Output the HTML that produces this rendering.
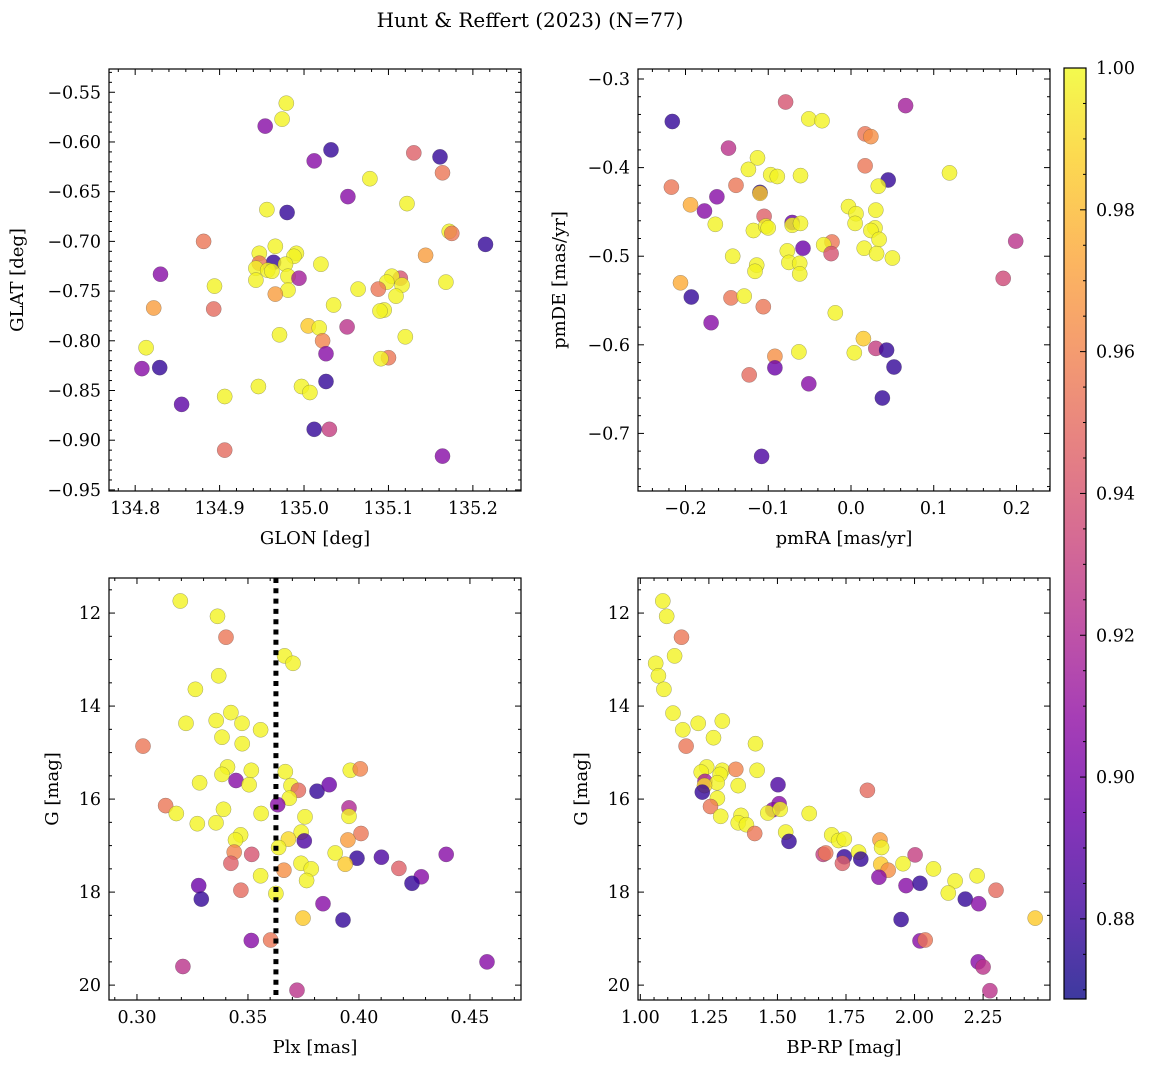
<!DOCTYPE html>
<html><head><meta charset="utf-8">
<style>
html,body{margin:0;padding:0;background:#fff;}
svg{display:block;font-family:"DejaVu Serif","Liberation Serif",serif;}
</style></head>
<body>
<svg id="fig" width="1149" height="1068" viewBox="0 0 1149 1068" xmlns="http://www.w3.org/2000/svg">
<defs>
<linearGradient id="cbgrad" x1="0" y1="1" x2="0" y2="0">
<stop offset="0" stop-color="#0d0887"/><stop offset="0.1" stop-color="#41049d"/><stop offset="0.2" stop-color="#6a00a8"/><stop offset="0.3" stop-color="#8f0da4"/><stop offset="0.4" stop-color="#b12a90"/><stop offset="0.5" stop-color="#cc4778"/><stop offset="0.6" stop-color="#e16462"/><stop offset="0.7" stop-color="#f2844b"/><stop offset="0.8" stop-color="#fca636"/><stop offset="0.9" stop-color="#fcce25"/><stop offset="1" stop-color="#f0f921"/>
</linearGradient>
</defs>
<text x="530" y="27" font-size="20" text-anchor="middle">Hunt &amp; Reffert (2023) (N=77)</text>
</svg>
<script>
// ---- data ----
const p1_glon=[134.979,134.974,134.954,135.032,135.012,135.130,135.161,135.164,135.078,135.052,135.122,134.956,134.980,135.172,135.175,135.215,134.881,135.144,134.830,134.966,134.947,134.991,134.988,134.964,134.947,134.943,134.978,135.020,134.957,134.962,134.981,134.994,134.943,134.894,134.981,134.966,135.114,135.104,135.098,135.116,135.168,135.064,135.088,135.109,134.822,134.893,135.035,135.095,135.090,135.051,135.005,135.018,135.120,134.971,135.022,135.026,134.813,135.100,135.091,134.808,134.829,134.997,135.007,134.946,135.026,134.906,134.855,135.012,135.030,134.906,135.164];
const p1_glat=[-0.561,-0.577,-0.584,-0.608,-0.619,-0.611,-0.615,-0.631,-0.637,-0.655,-0.662,-0.668,-0.671,-0.690,-0.692,-0.703,-0.700,-0.714,-0.733,-0.705,-0.712,-0.712,-0.715,-0.721,-0.722,-0.727,-0.723,-0.723,-0.729,-0.730,-0.735,-0.737,-0.739,-0.745,-0.749,-0.753,-0.737,-0.735,-0.741,-0.744,-0.741,-0.748,-0.748,-0.755,-0.767,-0.768,-0.764,-0.769,-0.770,-0.786,-0.785,-0.787,-0.796,-0.794,-0.800,-0.813,-0.807,-0.817,-0.818,-0.828,-0.827,-0.846,-0.852,-0.846,-0.841,-0.856,-0.864,-0.889,-0.889,-0.910,-0.916];
const p1_prob=[0.998,0.998,0.905,0.878,0.905,0.945,0.878,0.955,0.998,0.905,0.998,0.998,0.878,0.998,0.955,0.878,0.955,0.97,0.905,0.998,0.998,0.998,0.998,0.878,0.955,0.998,0.998,0.998,0.998,0.998,0.998,0.915,0.998,0.998,0.998,0.97,0.94,0.998,0.998,0.998,0.998,0.998,0.955,0.998,0.97,0.95,0.998,0.998,0.998,0.925,0.985,0.998,0.998,0.998,0.96,0.905,0.998,0.955,0.998,0.905,0.878,0.998,0.998,0.998,0.878,0.998,0.89,0.878,0.93,0.95,0.905];

const p2_pmra=[-0.216,-0.079,0.066,-0.051,-0.035,0.017,0.024,-0.148,-0.113,-0.124,-0.097,-0.089,-0.061,0.017,0.045,0.033,0.119,-0.217,-0.139,-0.110,-0.110,-0.162,-0.194,-0.177,-0.003,0.006,0.030,-0.105,-0.164,-0.118,-0.103,-0.100,-0.071,-0.071,-0.061,0.005,0.029,0.024,0.034,-0.023,-0.033,-0.024,-0.058,0.016,0.031,0.050,0.199,-0.143,-0.077,-0.075,-0.062,-0.062,-0.114,-0.116,0.184,-0.206,-0.193,-0.145,-0.129,-0.106,-0.019,-0.169,0.015,0.030,0.043,0.004,-0.063,-0.092,-0.092,-0.123,0.052,-0.051,0.038,-0.108];
const p2_pmde=[-0.348,-0.326,-0.330,-0.345,-0.347,-0.362,-0.365,-0.378,-0.389,-0.402,-0.408,-0.410,-0.409,-0.398,-0.414,-0.421,-0.406,-0.422,-0.420,-0.428,-0.429,-0.433,-0.442,-0.449,-0.444,-0.452,-0.448,-0.455,-0.464,-0.471,-0.466,-0.468,-0.462,-0.465,-0.463,-0.463,-0.468,-0.471,-0.481,-0.484,-0.487,-0.497,-0.491,-0.491,-0.497,-0.502,-0.483,-0.500,-0.494,-0.507,-0.508,-0.520,-0.510,-0.517,-0.525,-0.530,-0.546,-0.547,-0.545,-0.557,-0.564,-0.575,-0.593,-0.604,-0.606,-0.609,-0.608,-0.613,-0.626,-0.634,-0.625,-0.644,-0.660,-0.726];
const p2_prob=[0.878,0.94,0.915,0.998,0.998,0.955,0.965,0.925,0.998,0.998,0.998,0.998,0.998,0.955,0.878,0.998,0.998,0.955,0.955,0.878,0.985,0.905,0.975,0.905,0.998,0.998,0.998,0.945,0.998,0.998,0.998,0.998,0.895,0.998,0.998,0.998,0.998,0.998,0.998,0.955,0.998,0.94,0.895,0.998,0.998,0.998,0.925,0.998,0.998,0.998,0.998,0.998,0.998,0.998,0.935,0.975,0.878,0.955,0.998,0.955,0.998,0.905,0.985,0.93,0.878,0.998,0.998,0.965,0.895,0.95,0.878,0.905,0.878,0.885];

const p3_plx=[0.3195,0.3363,0.3401,0.3665,0.3703,0.3368,0.3263,0.3423,0.3357,0.3221,0.3473,0.3557,0.3383,0.3474,0.3027,0.3408,0.3515,0.3668,0.3961,0.4006,0.3383,0.3446,0.3282,0.3505,0.3694,0.3727,0.3811,0.3866,0.3686,0.3634,0.3129,0.3955,0.3177,0.3390,0.3559,0.3955,0.3757,0.3272,0.3356,0.3467,0.3444,0.3740,0.4009,0.3950,0.3682,0.3754,0.3638,0.3438,0.3517,0.3893,0.3991,0.4101,0.4393,0.3423,0.3739,0.3938,0.3785,0.4180,0.3662,0.3557,0.3764,0.4281,0.4239,0.3278,0.3468,0.3626,0.3290,0.3838,0.3748,0.3928,0.3515,0.3602,0.4577,0.3207,0.3721];
const p3_g=[11.74,12.07,12.52,12.92,13.08,13.35,13.64,14.14,14.31,14.37,14.37,14.51,14.67,14.81,14.86,15.31,15.38,15.41,15.38,15.35,15.47,15.60,15.65,15.69,15.71,15.81,15.83,15.69,15.98,16.12,16.14,16.19,16.31,16.22,16.31,16.37,16.38,16.53,16.51,16.77,16.88,16.71,16.74,16.88,16.86,16.90,17.04,17.14,17.19,17.16,17.27,17.25,17.19,17.38,17.38,17.40,17.50,17.49,17.53,17.65,17.75,17.67,17.81,17.86,17.96,18.03,18.15,18.25,18.56,18.60,19.04,19.03,19.50,19.60,20.11];
const p3_prob=[0.998,0.998,0.955,0.998,0.998,0.998,0.998,0.998,0.998,0.998,0.998,0.998,0.998,0.998,0.955,0.998,0.998,0.998,0.998,0.96,0.998,0.905,0.998,0.998,0.998,0.95,0.878,0.895,0.998,0.905,0.955,0.92,0.998,0.998,0.998,0.998,0.998,0.998,0.998,0.998,0.998,0.998,0.955,0.97,0.99,0.885,0.998,0.96,0.94,0.998,0.878,0.885,0.905,0.945,0.998,0.985,0.998,0.945,0.965,0.998,0.998,0.905,0.878,0.895,0.95,0.998,0.878,0.905,0.985,0.878,0.905,0.955,0.905,0.925,0.925];

const p4_bprp=[1.082,1.096,1.150,1.125,1.056,1.066,1.086,1.119,1.211,1.299,1.155,1.267,1.167,1.420,1.242,1.222,1.299,1.348,1.426,1.291,1.236,1.280,1.357,1.502,1.234,1.226,1.828,1.281,1.256,1.506,1.483,1.465,1.510,1.616,1.293,1.367,1.357,1.387,1.417,1.530,1.542,1.698,1.723,1.744,1.874,1.880,1.667,1.676,1.744,1.796,1.804,1.737,2.002,1.877,1.904,1.958,2.069,1.870,1.969,2.020,2.148,2.228,2.123,2.185,2.234,2.297,1.951,2.440,2.020,2.039,2.232,2.250,2.275];
const p4_g=[11.74,12.07,12.52,12.92,13.08,13.35,13.64,14.15,14.37,14.32,14.51,14.68,14.86,14.81,15.31,15.42,15.38,15.36,15.38,15.47,15.62,15.65,15.71,15.69,15.71,15.85,15.81,15.98,16.16,16.10,16.23,16.30,16.22,16.31,16.37,16.35,16.51,16.55,16.74,16.71,16.91,16.77,16.89,16.86,16.88,17.04,17.19,17.16,17.24,17.14,17.29,17.38,17.20,17.40,17.53,17.39,17.50,17.68,17.86,17.81,17.76,17.65,18.02,18.15,18.25,17.96,18.59,18.56,19.05,19.03,19.50,19.61,20.12];
const p4_prob=[0.998,0.998,0.955,0.998,0.998,0.998,0.998,0.998,0.998,0.998,0.998,0.998,0.955,0.998,0.998,0.998,0.998,0.96,0.998,0.998,0.915,0.998,0.998,0.885,0.99,0.878,0.95,0.998,0.955,0.905,0.905,0.998,0.998,0.998,0.998,0.998,0.998,0.998,0.955,0.998,0.878,0.998,0.998,0.998,0.97,0.998,0.93,0.955,0.878,0.998,0.878,0.945,0.93,0.985,0.965,0.998,0.998,0.905,0.905,0.878,0.998,0.998,0.998,0.878,0.905,0.95,0.878,0.985,0.905,0.955,0.905,0.925,0.925];

const cb_ticks=[0.88,0.90,0.92,0.94,0.96,0.98,1.00];
const plx_ref=0.3626;

// ---- rendering ----
const NS="http://www.w3.org/2000/svg";
const svg=document.getElementById('fig');
function mk(tag,attrs,parent){const e=document.createElementNS(NS,tag);for(const k in attrs)e.setAttribute(k,attrs[k]);(parent||svg).appendChild(e);return e;}
const PL=[[0,'#0d0887'],[0.1,'#41049d'],[0.2,'#6a00a8'],[0.3,'#8f0da4'],[0.4,'#b12a90'],[0.5,'#cc4778'],[0.6,'#e16462'],[0.7,'#f2844b'],[0.8,'#fca636'],[0.9,'#fcce25'],[1,'#f0f921']];
function hex(h){return [1,3,5].map(i=>parseInt(h.substr(i,2),16));}
const VMIN=0.8687,VMAX=1.0;
function plasma(v){let t=Math.max(0,Math.min(1,(v-VMIN)/(VMAX-VMIN)));for(let i=0;i<PL.length-1;i++){if(t<=PL[i+1][0]){const f=(t-PL[i][0])/(PL[i+1][0]-PL[i][0]);const a=hex(PL[i][1]),b=hex(PL[i+1][1]);return 'rgb('+a.map((c,j)=>Math.round(c+(b[j]-c)*f)).join(',')+')';}}return PL[PL.length-1][1];}

const FS=17.5;
function panel(o){
  const {x0,x1,y0,y1,xmin,xmax,ymin,ymax,inv}=o;
  const sx=v=>x0+(v-xmin)/(xmax-xmin)*(x1-x0);
  const sy=inv?(v=>y0+(v-ymin)/(ymax-ymin)*(y1-y0)):(v=>y1-(v-ymin)/(ymax-ymin)*(y1-y0));
  const g=mk('g',{});
  
  
  const pg=mk('g',{},g);
  
  
  for(let i=0;i<o.xs.length;i++){
    const c=mk('circle',{cx:sx(o.xs[i]).toFixed(1),cy:sy(o.ys[i]).toFixed(1),r:7.6,fill:plasma(o.ps[i]),'fill-opacity':0.8,stroke:'#444','stroke-opacity':0.6,'stroke-width':0.4},pg);
    
    
  }
  if(o.extra)o.extra(g,sx,sy);
  const f=mk('rect',{x:x0,y:y0,width:x1-x0,height:y1-y0,fill:'none',stroke:'#000','stroke-width':1.2},g);
  
  
  const tg=mk('g',{stroke:'#000','stroke-width':1},g);
  const eps=1e-9;
  for(let v=Math.ceil(xmin/o.xminor-eps)*o.xminor;v<=xmax+eps;v+=o.xminor){
    const X=sx(v);const maj=Math.abs(v/o.xmajor-Math.round(v/o.xmajor))<1e-6;const L=maj?6:3;
    mk('line',{x1:X,y1:y1,x2:X,y2:y1-L},tg);mk('line',{x1:X,y1:y0,x2:X,y2:y0+L},tg);
    if(maj){const t=mk('text',{x:X,y:y1+23,'font-size':FS,'text-anchor':'middle',stroke:'none'},g);t.textContent=o.xfmt(v);
      }
  }
  for(let v=Math.ceil(ymin/o.yminor-eps)*o.yminor;v<=ymax+eps;v+=o.yminor){
    const Y=sy(v);const maj=Math.abs(v/o.ymajor-Math.round(v/o.ymajor))<1e-6;const L=maj?6:3;
    mk('line',{x1:x0,y1:Y,x2:x0+L,y2:Y},tg);mk('line',{x1:x1,y1:Y,x2:x1-L,y2:Y},tg);
    if(maj){const t=mk('text',{x:x0-8,y:Y+6,'font-size':FS,'text-anchor':'end',stroke:'none'},g);t.textContent=o.yfmt(v);
      }
  }
  const xl=mk('text',{x:(x0+x1)/2,y:y1+53,'font-size':18,'text-anchor':'middle'},g);xl.textContent=o.xlabel;
  
  const yx=o.ylx,yy=(y0+y1)/2;
  const yl=mk('text',{x:yx,y:yy,'font-size':18,'text-anchor':'middle',transform:'rotate(-90 '+yx+' '+yy+')'},g);yl.textContent=o.ylabel;
  
}
const minus=s=>s.replace('-','\u2212');
panel({name:'glon-glat-panel',x0:109,x1:521,y0:69,y1:491,xmin:134.769,xmax:135.257,ymin:-0.9511,ymax:-0.5266,
  xs:p1_glon,ys:p1_glat,ps:p1_prob,xmajor:0.1,xminor:0.02,ymajor:0.05,yminor:0.01,
  xfmt:v=>v.toFixed(1),yfmt:v=>minus(v.toFixed(2)),xlabel:'GLON [deg]',ylabel:'GLAT [deg]',ylx:23});
panel({name:'proper-motion-panel',x0:638,x1:1050,y0:69,y1:491,xmin:-0.2574,xmax:0.2405,ymin:-0.765,ymax:-0.2887,
  xs:p2_pmra,ys:p2_pmde,ps:p2_prob,xmajor:0.1,xminor:0.02,ymajor:0.1,yminor:0.02,
  xfmt:v=>minus((Math.abs(v)<1e-9?0:v).toFixed(1)),yfmt:v=>minus(v.toFixed(1)),xlabel:'pmRA [mas/yr]',ylabel:'pmDE [mas/yr]',ylx:565});
panel({name:'parallax-panel',x0:109,x1:521,y0:578,y1:1000,xmin:0.2874,xmax:0.473,ymin:11.246,ymax:20.32,inv:true,
  xs:p3_plx,ys:p3_g,ps:p3_prob,xmajor:0.05,xminor:0.01,ymajor:2,yminor:0.5,
  xfmt:v=>v.toFixed(2),yfmt:v=>v.toFixed(0),xlabel:'Plx [mas]',ylabel:'G [mag]',ylx:58,
  extra:(g,sx,sy)=>{const l=mk('line',{x1:sx(plx_ref),y1:578,x2:sx(plx_ref),y2:1000,stroke:'#000','stroke-width':5,'stroke-dasharray':'5,5.3'},g);
    }});
panel({name:'cmd-panel',x0:638,x1:1050,y0:578,y1:1000,xmin:0.9915,xmax:2.494,ymin:11.246,ymax:20.32,inv:true,
  xs:p4_bprp,ys:p4_g,ps:p4_prob,xmajor:0.25,xminor:0.05,ymajor:2,yminor:0.5,
  xfmt:v=>v.toFixed(2),yfmt:v=>v.toFixed(0),xlabel:'BP-RP [mag]',ylabel:'G [mag]',ylx:587});

// colorbar
const cb=mk('g',{});


const cy0=68,cy1=999,cx0=1064,cx1=1086;
const cby=v=>cy1-(v-VMIN)/(VMAX-VMIN)*(cy1-cy0);
mk('rect',{x:cx0,y:cy0,width:cx1-cx0,height:cy1-cy0,fill:'url(#cbgrad)','fill-opacity':0.8,stroke:'none'},cb);
mk('rect',{x:cx0,y:cy0,width:cx1-cx0,height:cy1-cy0,fill:'none',stroke:'#000','stroke-width':1.2},cb);
for(let v=0.87;v<=1.0001;v+=0.005){const Y=cby(v);if(Y<cy0-0.5||Y>cy1)continue;const maj=Math.abs(v*50-Math.round(v*50))<1e-6;
  mk('line',{x1:cx1,y1:Y,x2:cx1-(maj?6:3),y2:Y,stroke:'#000','stroke-width':1},cb);}
cb_ticks.forEach(v=>{const t=mk('text',{x:1096,y:cby(v)+6,'font-size':FS},cb);t.textContent=v.toFixed(2);
  });
</script>
</body></html>
